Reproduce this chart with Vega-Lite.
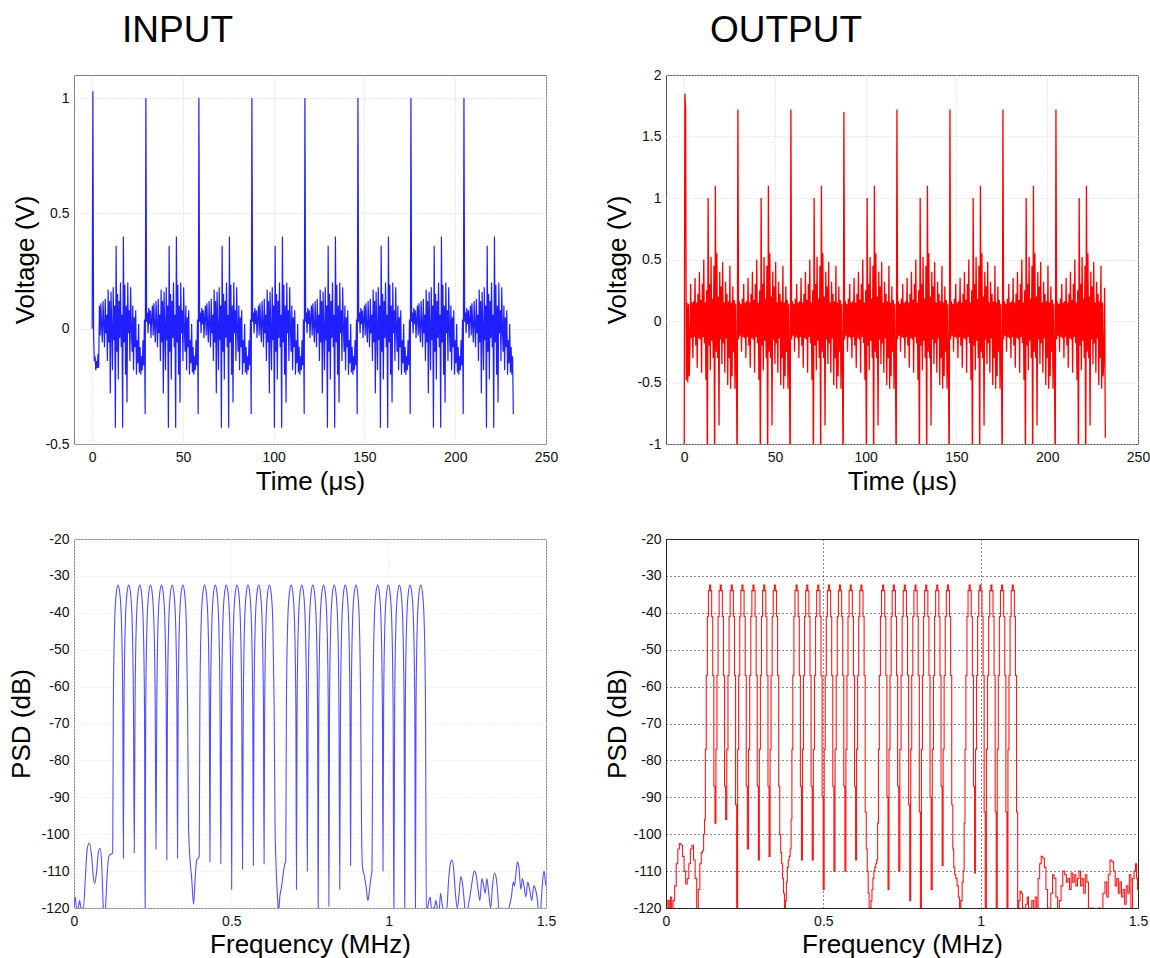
{
"$schema":"https://vega.github.io/schema/vega-lite/v6.json",
"padding":{"left":7,"top":11,"right":5,"bottom":2},
"background":"white",
"config":{
"font":"Liberation Sans",
"axis":{"domain":false,"ticks":false,"tickSize":0,"labelFontSize":14,"labelColor":"#111","titleFontSize":26,"titleFontWeight":"normal","titleColor":"#000","labelFlush":false,"labelOverlap":false},
"axisX":{"labelPadding":6,"titleBaseline":"alphabetic","titleY":45},
"axisY":{"labelPadding":5,"titleBaseline":"top"},
"title":{"fontSize":37,"fontWeight":"normal","color":"#000","anchor":"start","frame":"group","baseline":"alphabetic","offset":25}
},
"datasets":{
"time":[
{"t":0,"i":0,"o":-1.3},
{"t":0.4,"i":1.03,"o":1.85},{"t":0.8,"i":-0.03,"o":1.72},{"t":1.2,"i":-0.14,"o":-0.48},{"t":1.6,"i":-0.12,"o":0.15},{"t":2,"i":-0.18,"o":-0.5},{"t":2.4,"i":-0.14,"o":0.14},{"t":2.8,"i":-0.17,"o":-0.45},{"t":3.2,"i":-0.11,"o":-0.2},{"t":3.6,"i":-0.17,"o":0.3},{"t":4,"i":0.1,"o":-0.14},{"t":4.4,"i":-0.03,"o":0.15},{"t":4.8,"i":0.11,"o":-0.3},{"t":5.2,"i":0.01,"o":0.16},{"t":5.6,"i":-0.06,"o":-0.13},{"t":6,"i":0.12,"o":0.35},{"t":6.4,"i":0.02,"o":-0.2},{"t":6.8,"i":-0.08,"o":0.15},{"t":7.2,"i":0.13,"o":-0.38},{"t":7.6,"i":-0.02,"o":0.22},{"t":8,"i":0.06,"o":-0.14},{"t":8.4,"i":-0.14,"o":0.4},{"t":8.8,"i":0.17,"o":-0.15},{"t":9.2,"i":-0.06,"o":0.17},{"t":9.6,"i":0.12,"o":-0.42},{"t":10,"i":-0.28,"o":0.3},{"t":10.4,"i":0.16,"o":-0.13},{"t":10.8,"i":0,"o":0.5},{"t":11.2,"i":-0.18,"o":-0.18},{"t":11.6,"i":0.18,"o":0.15},{"t":12,"i":-0.05,"o":-0.48},{"t":12.4,"i":0.1,"o":0.25},{"t":12.8,"i":-0.43,"o":-1.3},{"t":13.2,"i":0.36,"o":1},{"t":13.6,"i":-0.1,"o":-0.2},{"t":14,"i":0.15,"o":0.3},{"t":14.4,"i":-0.22,"o":-0.4},{"t":14.8,"i":0.12,"o":0.52},{"t":15.2,"i":-0.04,"o":-0.16},{"t":15.6,"i":0.2,"o":0.18},{"t":16,"i":-0.08,"o":-0.3},{"t":16.4,"i":0.06,"o":0.45},{"t":16.8,"i":-0.43,"o":-1.3},{"t":17.2,"i":0.4,"o":1.1},{"t":17.6,"i":-0.06,"o":-0.25},{"t":18,"i":0.19,"o":0.55},{"t":18.4,"i":-0.2,"o":-0.3},{"t":18.8,"i":0.1,"o":0.2},{"t":19.2,"i":-0.32,"o":-0.85},{"t":19.6,"i":0.2,"o":0.4},{"t":20,"i":-0.02,"o":-0.15},{"t":20.4,"i":0.08,"o":0.28},{"t":20.8,"i":-0.14,"o":-0.35},{"t":21.2,"i":0.18,"o":0.48},{"t":21.6,"i":0,"o":-0.18},{"t":22,"i":-0.1,"o":0.15},{"t":22.4,"i":0.1,"o":-0.42},{"t":22.8,"i":-0.18,"o":0.32},{"t":23.2,"i":0.05,"o":-0.14},{"t":23.6,"i":-0.08,"o":0.22},{"t":24,"i":0.08,"o":-0.52},{"t":24.4,"i":-0.2,"o":0.16},{"t":24.8,"i":-0.05,"o":-0.3},{"t":25.2,"i":-0.15,"o":0.45},{"t":25.6,"i":0.02,"o":-0.55},{"t":26,"i":-0.19,"o":0.15},{"t":26.4,"i":-0.08,"o":-0.45},{"t":26.8,"i":-0.2,"o":0.28},{"t":27.2,"i":-0.12,"o":-0.25},{"t":27.6,"i":-0.18,"o":0.17},{"t":28,"i":-0.05,"o":-0.55},{"t":28.4,"i":-0.16,"o":0.14},{"t":28.8,"i":0.04,"o":-0.4},{"t":29.2,"i":-0.37,"o":-1.3},
{"t":29.6,"i":1,"o":1.72},{"t":30,"i":0.03,"o":-0.15},{"t":30.4,"i":0.07,"o":0.16},{"t":30.8,"i":-0.02,"o":-0.12},{"t":31.2,"i":0.09,"o":0.14},{"t":31.6,"i":0.02,"o":-0.25},{"t":32,"i":0.08,"o":0.18},{"t":32.4,"i":-0.04,"o":-0.13},{"t":32.8,"i":0.05,"o":0.3},{"t":33.2,"i":0.1,"o":-0.14},{"t":33.6,"i":-0.03,"o":0.15},{"t":34,"i":0.11,"o":-0.3},{"t":34.4,"i":0.01,"o":0.16},{"t":34.8,"i":-0.06,"o":-0.13},{"t":35.2,"i":0.12,"o":0.35},{"t":35.6,"i":0.02,"o":-0.2},{"t":36,"i":-0.08,"o":0.15},{"t":36.4,"i":0.13,"o":-0.38},{"t":36.8,"i":-0.02,"o":0.22},{"t":37.2,"i":0.06,"o":-0.14},{"t":37.6,"i":-0.14,"o":0.4},{"t":38,"i":0.17,"o":-0.15},{"t":38.4,"i":-0.06,"o":0.17},{"t":38.8,"i":0.12,"o":-0.42},{"t":39.2,"i":-0.28,"o":0.3},{"t":39.6,"i":0.16,"o":-0.13},{"t":40,"i":0,"o":0.5},{"t":40.4,"i":-0.18,"o":-0.18},{"t":40.8,"i":0.18,"o":0.15},{"t":41.2,"i":-0.05,"o":-0.48},{"t":41.6,"i":0.1,"o":0.25},{"t":42,"i":-0.43,"o":-1.3},{"t":42.4,"i":0.36,"o":1},{"t":42.8,"i":-0.1,"o":-0.2},{"t":43.2,"i":0.15,"o":0.3},{"t":43.6,"i":-0.22,"o":-0.4},{"t":44,"i":0.12,"o":0.52},{"t":44.4,"i":-0.04,"o":-0.16},{"t":44.8,"i":0.2,"o":0.18},{"t":45.2,"i":-0.08,"o":-0.3},{"t":45.6,"i":0.06,"o":0.45},{"t":46,"i":-0.43,"o":-1.3},{"t":46.4,"i":0.4,"o":1.1},{"t":46.8,"i":-0.06,"o":-0.25},{"t":47.2,"i":0.19,"o":0.55},{"t":47.6,"i":-0.2,"o":-0.3},{"t":48,"i":0.1,"o":0.2},{"t":48.4,"i":-0.32,"o":-0.85},{"t":48.8,"i":0.2,"o":0.4},{"t":49.2,"i":-0.02,"o":-0.15},{"t":49.6,"i":0.08,"o":0.28},{"t":50,"i":-0.14,"o":-0.35},{"t":50.4,"i":0.18,"o":0.48},{"t":50.8,"i":0,"o":-0.18},{"t":51.2,"i":-0.1,"o":0.15},{"t":51.6,"i":0.1,"o":-0.42},{"t":52,"i":-0.18,"o":0.32},{"t":52.4,"i":0.05,"o":-0.14},{"t":52.8,"i":-0.08,"o":0.22},{"t":53.2,"i":0.08,"o":-0.52},{"t":53.6,"i":-0.2,"o":0.16},{"t":54,"i":-0.05,"o":-0.3},{"t":54.4,"i":-0.15,"o":0.45},{"t":54.8,"i":0.02,"o":-0.55},{"t":55.2,"i":-0.19,"o":0.15},{"t":55.6,"i":-0.08,"o":-0.45},{"t":56,"i":-0.2,"o":0.28},{"t":56.4,"i":-0.12,"o":-0.25},{"t":56.8,"i":-0.18,"o":0.17},{"t":57.2,"i":-0.05,"o":-0.55},{"t":57.6,"i":-0.16,"o":0.14},{"t":58,"i":0.04,"o":-0.4},{"t":58.4,"i":-0.37,"o":-1.3},
{"t":58.8,"i":1,"o":1.72},{"t":59.2,"i":0.03,"o":-0.15},{"t":59.6,"i":0.07,"o":0.16},{"t":60,"i":-0.02,"o":-0.12},{"t":60.4,"i":0.09,"o":0.14},{"t":60.8,"i":0.02,"o":-0.25},{"t":61.2,"i":0.08,"o":0.18},{"t":61.6,"i":-0.04,"o":-0.13},{"t":62,"i":0.05,"o":0.3},{"t":62.4,"i":0.1,"o":-0.14},{"t":62.8,"i":-0.03,"o":0.15},{"t":63.2,"i":0.11,"o":-0.3},{"t":63.6,"i":0.01,"o":0.16},{"t":64,"i":-0.06,"o":-0.13},{"t":64.4,"i":0.12,"o":0.35},{"t":64.8,"i":0.02,"o":-0.2},{"t":65.2,"i":-0.08,"o":0.15},{"t":65.6,"i":0.13,"o":-0.38},{"t":66,"i":-0.02,"o":0.22},{"t":66.4,"i":0.06,"o":-0.14},{"t":66.8,"i":-0.14,"o":0.4},{"t":67.2,"i":0.17,"o":-0.15},{"t":67.6,"i":-0.06,"o":0.17},{"t":68,"i":0.12,"o":-0.42},{"t":68.4,"i":-0.28,"o":0.3},{"t":68.8,"i":0.16,"o":-0.13},{"t":69.2,"i":0,"o":0.5},{"t":69.6,"i":-0.18,"o":-0.18},{"t":70,"i":0.18,"o":0.15},{"t":70.4,"i":-0.05,"o":-0.48},{"t":70.8,"i":0.1,"o":0.25},{"t":71.2,"i":-0.43,"o":-1.3},{"t":71.6,"i":0.36,"o":1},{"t":72,"i":-0.1,"o":-0.2},{"t":72.4,"i":0.15,"o":0.3},{"t":72.8,"i":-0.22,"o":-0.4},{"t":73.2,"i":0.12,"o":0.52},{"t":73.6,"i":-0.04,"o":-0.16},{"t":74,"i":0.2,"o":0.18},{"t":74.4,"i":-0.08,"o":-0.3},{"t":74.8,"i":0.06,"o":0.45},{"t":75.2,"i":-0.43,"o":-1.3},{"t":75.6,"i":0.4,"o":1.1},{"t":76,"i":-0.06,"o":-0.25},{"t":76.4,"i":0.19,"o":0.55},{"t":76.8,"i":-0.2,"o":-0.3},{"t":77.2,"i":0.1,"o":0.2},{"t":77.6,"i":-0.32,"o":-0.85},{"t":78,"i":0.2,"o":0.4},{"t":78.4,"i":-0.02,"o":-0.15},{"t":78.8,"i":0.08,"o":0.28},{"t":79.2,"i":-0.14,"o":-0.35},{"t":79.6,"i":0.18,"o":0.48},{"t":80,"i":0,"o":-0.18},{"t":80.4,"i":-0.1,"o":0.15},{"t":80.8,"i":0.1,"o":-0.42},{"t":81.2,"i":-0.18,"o":0.32},{"t":81.6,"i":0.05,"o":-0.14},{"t":82,"i":-0.08,"o":0.22},{"t":82.4,"i":0.08,"o":-0.52},{"t":82.8,"i":-0.2,"o":0.16},{"t":83.2,"i":-0.05,"o":-0.3},{"t":83.6,"i":-0.15,"o":0.45},{"t":84,"i":0.02,"o":-0.55},{"t":84.4,"i":-0.19,"o":0.15},{"t":84.8,"i":-0.08,"o":-0.45},{"t":85.2,"i":-0.2,"o":0.28},{"t":85.6,"i":-0.12,"o":-0.25},{"t":86,"i":-0.18,"o":0.17},{"t":86.4,"i":-0.05,"o":-0.55},{"t":86.8,"i":-0.16,"o":0.14},{"t":87.2,"i":0.04,"o":-0.4},{"t":87.6,"i":-0.37,"o":-1.3},
{"t":88,"i":1,"o":1.7},{"t":88.4,"i":0.03,"o":-0.15},{"t":88.8,"i":0.07,"o":0.16},{"t":89.2,"i":-0.02,"o":-0.12},{"t":89.6,"i":0.09,"o":0.14},{"t":90,"i":0.02,"o":-0.25},{"t":90.4,"i":0.08,"o":0.18},{"t":90.8,"i":-0.04,"o":-0.13},{"t":91.2,"i":0.05,"o":0.3},{"t":91.6,"i":0.1,"o":-0.14},{"t":92,"i":-0.03,"o":0.15},{"t":92.4,"i":0.11,"o":-0.3},{"t":92.8,"i":0.01,"o":0.16},{"t":93.2,"i":-0.06,"o":-0.13},{"t":93.6,"i":0.12,"o":0.35},{"t":94,"i":0.02,"o":-0.2},{"t":94.4,"i":-0.08,"o":0.15},{"t":94.8,"i":0.13,"o":-0.38},{"t":95.2,"i":-0.02,"o":0.22},{"t":95.6,"i":0.06,"o":-0.14},{"t":96,"i":-0.14,"o":0.4},{"t":96.4,"i":0.17,"o":-0.15},{"t":96.8,"i":-0.06,"o":0.17},{"t":97.2,"i":0.12,"o":-0.42},{"t":97.6,"i":-0.28,"o":0.3},{"t":98,"i":0.16,"o":-0.13},{"t":98.4,"i":0,"o":0.5},{"t":98.8,"i":-0.18,"o":-0.18},{"t":99.2,"i":0.18,"o":0.15},{"t":99.6,"i":-0.05,"o":-0.48},{"t":100,"i":0.1,"o":0.25},{"t":100.4,"i":-0.43,"o":-1.3},{"t":100.8,"i":0.36,"o":1},{"t":101.2,"i":-0.1,"o":-0.2},{"t":101.6,"i":0.15,"o":0.3},{"t":102,"i":-0.22,"o":-0.4},{"t":102.4,"i":0.12,"o":0.52},{"t":102.8,"i":-0.04,"o":-0.16},{"t":103.2,"i":0.2,"o":0.18},{"t":103.6,"i":-0.08,"o":-0.3},{"t":104,"i":0.06,"o":0.45},{"t":104.4,"i":-0.43,"o":-1.3},{"t":104.8,"i":0.4,"o":1.1},{"t":105.2,"i":-0.06,"o":-0.25},{"t":105.6,"i":0.19,"o":0.55},{"t":106,"i":-0.2,"o":-0.3},{"t":106.4,"i":0.1,"o":0.2},{"t":106.8,"i":-0.32,"o":-0.85},{"t":107.2,"i":0.2,"o":0.4},{"t":107.6,"i":-0.02,"o":-0.15},{"t":108,"i":0.08,"o":0.28},{"t":108.4,"i":-0.14,"o":-0.35},{"t":108.8,"i":0.18,"o":0.48},{"t":109.2,"i":0,"o":-0.18},{"t":109.6,"i":-0.1,"o":0.15},{"t":110,"i":0.1,"o":-0.42},{"t":110.4,"i":-0.18,"o":0.32},{"t":110.8,"i":0.05,"o":-0.14},{"t":111.2,"i":-0.08,"o":0.22},{"t":111.6,"i":0.08,"o":-0.52},{"t":112,"i":-0.2,"o":0.16},{"t":112.4,"i":-0.05,"o":-0.3},{"t":112.8,"i":-0.15,"o":0.45},{"t":113.2,"i":0.02,"o":-0.55},{"t":113.6,"i":-0.19,"o":0.15},{"t":114,"i":-0.08,"o":-0.45},{"t":114.4,"i":-0.2,"o":0.28},{"t":114.8,"i":-0.12,"o":-0.25},{"t":115.2,"i":-0.18,"o":0.17},{"t":115.6,"i":-0.05,"o":-0.55},{"t":116,"i":-0.16,"o":0.14},{"t":116.4,"i":0.04,"o":-0.4},{"t":116.8,"i":-0.37,"o":-1.3},
{"t":117.2,"i":1,"o":1.72},{"t":117.6,"i":0.03,"o":-0.15},{"t":118,"i":0.07,"o":0.16},{"t":118.4,"i":-0.02,"o":-0.12},{"t":118.8,"i":0.09,"o":0.14},{"t":119.2,"i":0.02,"o":-0.25},{"t":119.6,"i":0.08,"o":0.18},{"t":120,"i":-0.04,"o":-0.13},{"t":120.4,"i":0.05,"o":0.3},{"t":120.8,"i":0.1,"o":-0.14},{"t":121.2,"i":-0.03,"o":0.15},{"t":121.6,"i":0.11,"o":-0.3},{"t":122,"i":0.01,"o":0.16},{"t":122.4,"i":-0.06,"o":-0.13},{"t":122.8,"i":0.12,"o":0.35},{"t":123.2,"i":0.02,"o":-0.2},{"t":123.6,"i":-0.08,"o":0.15},{"t":124,"i":0.13,"o":-0.38},{"t":124.4,"i":-0.02,"o":0.22},{"t":124.8,"i":0.06,"o":-0.14},{"t":125.2,"i":-0.14,"o":0.4},{"t":125.6,"i":0.17,"o":-0.15},{"t":126,"i":-0.06,"o":0.17},{"t":126.4,"i":0.12,"o":-0.42},{"t":126.8,"i":-0.28,"o":0.3},{"t":127.2,"i":0.16,"o":-0.13},{"t":127.6,"i":0,"o":0.5},{"t":128,"i":-0.18,"o":-0.18},{"t":128.4,"i":0.18,"o":0.15},{"t":128.8,"i":-0.05,"o":-0.48},{"t":129.2,"i":0.1,"o":0.25},{"t":129.6,"i":-0.43,"o":-1.3},{"t":130,"i":0.36,"o":1},{"t":130.4,"i":-0.1,"o":-0.2},{"t":130.8,"i":0.15,"o":0.3},{"t":131.2,"i":-0.22,"o":-0.4},{"t":131.6,"i":0.12,"o":0.52},{"t":132,"i":-0.04,"o":-0.16},{"t":132.4,"i":0.2,"o":0.18},{"t":132.8,"i":-0.08,"o":-0.3},{"t":133.2,"i":0.06,"o":0.45},{"t":133.6,"i":-0.43,"o":-1.3},{"t":134,"i":0.4,"o":1.1},{"t":134.4,"i":-0.06,"o":-0.25},{"t":134.8,"i":0.19,"o":0.55},{"t":135.2,"i":-0.2,"o":-0.3},{"t":135.6,"i":0.1,"o":0.2},{"t":136,"i":-0.32,"o":-0.85},{"t":136.4,"i":0.2,"o":0.4},{"t":136.8,"i":-0.02,"o":-0.15},{"t":137.2,"i":0.08,"o":0.28},{"t":137.6,"i":-0.14,"o":-0.35},{"t":138,"i":0.18,"o":0.48},{"t":138.4,"i":0,"o":-0.18},{"t":138.8,"i":-0.1,"o":0.15},{"t":139.2,"i":0.1,"o":-0.42},{"t":139.6,"i":-0.18,"o":0.32},{"t":140,"i":0.05,"o":-0.14},{"t":140.4,"i":-0.08,"o":0.22},{"t":140.8,"i":0.08,"o":-0.52},{"t":141.2,"i":-0.2,"o":0.16},{"t":141.6,"i":-0.05,"o":-0.3},{"t":142,"i":-0.15,"o":0.45},{"t":142.4,"i":0.02,"o":-0.55},{"t":142.8,"i":-0.19,"o":0.15},{"t":143.2,"i":-0.08,"o":-0.45},{"t":143.6,"i":-0.2,"o":0.28},{"t":144,"i":-0.12,"o":-0.25},{"t":144.4,"i":-0.18,"o":0.17},{"t":144.8,"i":-0.05,"o":-0.55},{"t":145.2,"i":-0.16,"o":0.14},{"t":145.6,"i":0.04,"o":-0.4},{"t":146,"i":-0.37,"o":-1.3},
{"t":146.4,"i":1,"o":1.72},{"t":146.8,"i":0.03,"o":-0.15},{"t":147.2,"i":0.07,"o":0.16},{"t":147.6,"i":-0.02,"o":-0.12},{"t":148,"i":0.09,"o":0.14},{"t":148.4,"i":0.02,"o":-0.25},{"t":148.8,"i":0.08,"o":0.18},{"t":149.2,"i":-0.04,"o":-0.13},{"t":149.6,"i":0.05,"o":0.3},{"t":150,"i":0.1,"o":-0.14},{"t":150.4,"i":-0.03,"o":0.15},{"t":150.8,"i":0.11,"o":-0.3},{"t":151.2,"i":0.01,"o":0.16},{"t":151.6,"i":-0.06,"o":-0.13},{"t":152,"i":0.12,"o":0.35},{"t":152.4,"i":0.02,"o":-0.2},{"t":152.8,"i":-0.08,"o":0.15},{"t":153.2,"i":0.13,"o":-0.38},{"t":153.6,"i":-0.02,"o":0.22},{"t":154,"i":0.06,"o":-0.14},{"t":154.4,"i":-0.14,"o":0.4},{"t":154.8,"i":0.17,"o":-0.15},{"t":155.2,"i":-0.06,"o":0.17},{"t":155.6,"i":0.12,"o":-0.42},{"t":156,"i":-0.28,"o":0.3},{"t":156.4,"i":0.16,"o":-0.13},{"t":156.8,"i":0,"o":0.5},{"t":157.2,"i":-0.18,"o":-0.18},{"t":157.6,"i":0.18,"o":0.15},{"t":158,"i":-0.05,"o":-0.48},{"t":158.4,"i":0.1,"o":0.25},{"t":158.8,"i":-0.43,"o":-1.3},{"t":159.2,"i":0.36,"o":1},{"t":159.6,"i":-0.1,"o":-0.2},{"t":160,"i":0.15,"o":0.3},{"t":160.4,"i":-0.22,"o":-0.4},{"t":160.8,"i":0.12,"o":0.52},{"t":161.2,"i":-0.04,"o":-0.16},{"t":161.6,"i":0.2,"o":0.18},{"t":162,"i":-0.08,"o":-0.3},{"t":162.4,"i":0.06,"o":0.45},{"t":162.8,"i":-0.43,"o":-1.3},{"t":163.2,"i":0.4,"o":1.1},{"t":163.6,"i":-0.06,"o":-0.25},{"t":164,"i":0.19,"o":0.55},{"t":164.4,"i":-0.2,"o":-0.3},{"t":164.8,"i":0.1,"o":0.2},{"t":165.2,"i":-0.32,"o":-0.85},{"t":165.6,"i":0.2,"o":0.4},{"t":166,"i":-0.02,"o":-0.15},{"t":166.4,"i":0.08,"o":0.28},{"t":166.8,"i":-0.14,"o":-0.35},{"t":167.2,"i":0.18,"o":0.48},{"t":167.6,"i":0,"o":-0.18},{"t":168,"i":-0.1,"o":0.15},{"t":168.4,"i":0.1,"o":-0.42},{"t":168.8,"i":-0.18,"o":0.32},{"t":169.2,"i":0.05,"o":-0.14},{"t":169.6,"i":-0.08,"o":0.22},{"t":170,"i":0.08,"o":-0.52},{"t":170.4,"i":-0.2,"o":0.16},{"t":170.8,"i":-0.05,"o":-0.3},{"t":171.2,"i":-0.15,"o":0.45},{"t":171.6,"i":0.02,"o":-0.55},{"t":172,"i":-0.19,"o":0.15},{"t":172.4,"i":-0.08,"o":-0.45},{"t":172.8,"i":-0.2,"o":0.28},{"t":173.2,"i":-0.12,"o":-0.25},{"t":173.6,"i":-0.18,"o":0.17},{"t":174,"i":-0.05,"o":-0.55},{"t":174.4,"i":-0.16,"o":0.14},{"t":174.8,"i":0.04,"o":-0.4},{"t":175.2,"i":-0.37,"o":-1.3},
{"t":175.6,"i":1,"o":1.72},{"t":176,"i":0.03,"o":-0.15},{"t":176.4,"i":0.07,"o":0.16},{"t":176.8,"i":-0.02,"o":-0.12},{"t":177.2,"i":0.09,"o":0.14},{"t":177.6,"i":0.02,"o":-0.25},{"t":178,"i":0.08,"o":0.18},{"t":178.4,"i":-0.04,"o":-0.13},{"t":178.8,"i":0.05,"o":0.3},{"t":179.2,"i":0.1,"o":-0.14},{"t":179.6,"i":-0.03,"o":0.15},{"t":180,"i":0.11,"o":-0.3},{"t":180.4,"i":0.01,"o":0.16},{"t":180.8,"i":-0.06,"o":-0.13},{"t":181.2,"i":0.12,"o":0.35},{"t":181.6,"i":0.02,"o":-0.2},{"t":182,"i":-0.08,"o":0.15},{"t":182.4,"i":0.13,"o":-0.38},{"t":182.8,"i":-0.02,"o":0.22},{"t":183.2,"i":0.06,"o":-0.14},{"t":183.6,"i":-0.14,"o":0.4},{"t":184,"i":0.17,"o":-0.15},{"t":184.4,"i":-0.06,"o":0.17},{"t":184.8,"i":0.12,"o":-0.42},{"t":185.2,"i":-0.28,"o":0.3},{"t":185.6,"i":0.16,"o":-0.13},{"t":186,"i":0,"o":0.5},{"t":186.4,"i":-0.18,"o":-0.18},{"t":186.8,"i":0.18,"o":0.15},{"t":187.2,"i":-0.05,"o":-0.48},{"t":187.6,"i":0.1,"o":0.25},{"t":188,"i":-0.43,"o":-1.3},{"t":188.4,"i":0.36,"o":1},{"t":188.8,"i":-0.1,"o":-0.2},{"t":189.2,"i":0.15,"o":0.3},{"t":189.6,"i":-0.22,"o":-0.4},{"t":190,"i":0.12,"o":0.52},{"t":190.4,"i":-0.04,"o":-0.16},{"t":190.8,"i":0.2,"o":0.18},{"t":191.2,"i":-0.08,"o":-0.3},{"t":191.6,"i":0.06,"o":0.45},{"t":192,"i":-0.43,"o":-1.3},{"t":192.4,"i":0.4,"o":1.1},{"t":192.8,"i":-0.06,"o":-0.25},{"t":193.2,"i":0.19,"o":0.55},{"t":193.6,"i":-0.2,"o":-0.3},{"t":194,"i":0.1,"o":0.2},{"t":194.4,"i":-0.32,"o":-0.85},{"t":194.8,"i":0.2,"o":0.4},{"t":195.2,"i":-0.02,"o":-0.15},{"t":195.6,"i":0.08,"o":0.28},{"t":196,"i":-0.14,"o":-0.35},{"t":196.4,"i":0.18,"o":0.48},{"t":196.8,"i":0,"o":-0.18},{"t":197.2,"i":-0.1,"o":0.15},{"t":197.6,"i":0.1,"o":-0.42},{"t":198,"i":-0.18,"o":0.32},{"t":198.4,"i":0.05,"o":-0.14},{"t":198.8,"i":-0.08,"o":0.22},{"t":199.2,"i":0.08,"o":-0.52},{"t":199.6,"i":-0.2,"o":0.16},{"t":200,"i":-0.05,"o":-0.3},{"t":200.4,"i":-0.15,"o":0.45},{"t":200.8,"i":0.02,"o":-0.55},{"t":201.2,"i":-0.19,"o":0.15},{"t":201.6,"i":-0.08,"o":-0.45},{"t":202,"i":-0.2,"o":0.28},{"t":202.4,"i":-0.12,"o":-0.25},{"t":202.8,"i":-0.18,"o":0.17},{"t":203.2,"i":-0.05,"o":-0.55},{"t":203.6,"i":-0.16,"o":0.14},{"t":204,"i":0.04,"o":-0.4},{"t":204.4,"i":-0.37,"o":-1.3},
{"t":204.8,"i":1,"o":1.72},{"t":205.2,"i":0.03,"o":-0.15},{"t":205.6,"i":0.07,"o":0.16},{"t":206,"i":-0.02,"o":-0.12},{"t":206.4,"i":0.09,"o":0.14},{"t":206.8,"i":0.02,"o":-0.25},{"t":207.2,"i":0.08,"o":0.18},{"t":207.6,"i":-0.04,"o":-0.13},{"t":208,"i":0.05,"o":0.3},{"t":208.4,"i":0.1,"o":-0.14},{"t":208.8,"i":-0.03,"o":0.15},{"t":209.2,"i":0.11,"o":-0.3},{"t":209.6,"i":0.01,"o":0.16},{"t":210,"i":-0.06,"o":-0.13},{"t":210.4,"i":0.12,"o":0.35},{"t":210.8,"i":0.02,"o":-0.2},{"t":211.2,"i":-0.08,"o":0.15},{"t":211.6,"i":0.13,"o":-0.38},{"t":212,"i":-0.02,"o":0.22},{"t":212.4,"i":0.06,"o":-0.14},{"t":212.8,"i":-0.14,"o":0.4},{"t":213.2,"i":0.17,"o":-0.15},{"t":213.6,"i":-0.06,"o":0.17},{"t":214,"i":0.12,"o":-0.42},{"t":214.4,"i":-0.28,"o":0.3},{"t":214.8,"i":0.16,"o":-0.13},{"t":215.2,"i":0,"o":0.5},{"t":215.6,"i":-0.18,"o":-0.18},{"t":216,"i":0.18,"o":0.15},{"t":216.4,"i":-0.05,"o":-0.48},{"t":216.8,"i":0.1,"o":0.25},{"t":217.2,"i":-0.43,"o":-1.3},{"t":217.6,"i":0.36,"o":1},{"t":218,"i":-0.1,"o":-0.2},{"t":218.4,"i":0.15,"o":0.3},{"t":218.8,"i":-0.22,"o":-0.4},{"t":219.2,"i":0.12,"o":0.52},{"t":219.6,"i":-0.04,"o":-0.16},{"t":220,"i":0.2,"o":0.18},{"t":220.4,"i":-0.08,"o":-0.3},{"t":220.8,"i":0.06,"o":0.45},{"t":221.2,"i":-0.43,"o":-1.3},{"t":221.6,"i":0.4,"o":1.1},{"t":222,"i":-0.06,"o":-0.25},{"t":222.4,"i":0.19,"o":0.55},{"t":222.8,"i":-0.2,"o":-0.3},{"t":223.2,"i":0.1,"o":0.2},{"t":223.6,"i":-0.32,"o":-0.85},{"t":224,"i":0.2,"o":0.4},{"t":224.4,"i":-0.02,"o":-0.15},{"t":224.8,"i":0.08,"o":0.28},{"t":225.2,"i":-0.14,"o":-0.35},{"t":225.6,"i":0.18,"o":0.48},{"t":226,"i":0,"o":-0.18},{"t":226.4,"i":-0.1,"o":0.15},{"t":226.8,"i":0.1,"o":-0.42},{"t":227.2,"i":-0.18,"o":0.32},{"t":227.6,"i":0.05,"o":-0.14},{"t":228,"i":-0.08,"o":0.22},{"t":228.4,"i":0.08,"o":-0.52},{"t":228.8,"i":-0.2,"o":0.16},{"t":229.2,"i":-0.05,"o":-0.3},{"t":229.6,"i":-0.15,"o":0.45},{"t":230,"i":0.02,"o":-0.55},{"t":230.4,"i":-0.19,"o":0.15},{"t":230.8,"i":-0.08,"o":-0.45},{"t":231.2,"i":-0.2,"o":-0.3},{"t":231.6,"i":-0.12,"o":0.27},{"t":232,"i":-0.37,"o":-0.95}
],
"fi":[
{"f":0,"p":-120},{"f":0.004,"p":-117},{"f":0.008,"p":-120},{"f":0.013,"p":-120},{"f":0.018,"p":-118},{"f":0.022,"p":-120},{"f":0.03,"p":-120},{"f":0.036,"p":-112},{"f":0.042,"p":-104},{"f":0.049,"p":-102.4},{"f":0.056,"p":-106},{"f":0.062,"p":-112},{"f":0.066,"p":-113.3},{"f":0.072,"p":-110},{"f":0.078,"p":-104.5},{"f":0.083,"p":-103.8},{"f":0.088,"p":-108},{"f":0.093,"p":-120},{"f":0.096,"p":-124},{"f":0.1,"p":-120},{"f":0.106,"p":-110},{"f":0.111,"p":-106},{"f":0.115,"p":-105.5},{"f":0.12,"p":-105.3},{"f":0.123,"p":-105},
{"f":0.125,"p":-65},{"f":0.129,"p":-43},{"f":0.134,"p":-35},{"f":0.14,"p":-32.5},{"f":0.146,"p":-35},{"f":0.151,"p":-43},{"f":0.155,"p":-65},{"f":0.157,"p":-106.5},
{"f":0.159,"p":-65},{"f":0.163,"p":-43},{"f":0.168,"p":-35},{"f":0.174,"p":-32.5},{"f":0.18,"p":-35},{"f":0.185,"p":-43},{"f":0.189,"p":-65},{"f":0.1915,"p":-105},
{"f":0.194,"p":-65},{"f":0.198,"p":-43},{"f":0.203,"p":-35},{"f":0.209,"p":-32.5},{"f":0.215,"p":-35},{"f":0.22,"p":-43},{"f":0.224,"p":-65},{"f":0.226,"p":-125},
{"f":0.228,"p":-65},{"f":0.232,"p":-43},{"f":0.237,"p":-35},{"f":0.243,"p":-32.5},{"f":0.249,"p":-35},{"f":0.254,"p":-43},{"f":0.258,"p":-65},{"f":0.2605,"p":-104},
{"f":0.263,"p":-65},{"f":0.267,"p":-43},{"f":0.272,"p":-35},{"f":0.278,"p":-32.5},{"f":0.284,"p":-35},{"f":0.289,"p":-43},{"f":0.293,"p":-65},{"f":0.295,"p":-107},
{"f":0.297,"p":-65},{"f":0.301,"p":-43},{"f":0.306,"p":-35},{"f":0.312,"p":-32.5},{"f":0.318,"p":-35},{"f":0.323,"p":-43},{"f":0.327,"p":-65},{"f":0.329,"p":-106.5},
{"f":0.331,"p":-65},{"f":0.335,"p":-43},{"f":0.34,"p":-35},{"f":0.346,"p":-32.5},{"f":0.352,"p":-35},{"f":0.357,"p":-43},{"f":0.361,"p":-65},
{"f":0.364,"p":-98},{"f":0.368,"p":-106},{"f":0.374,"p":-112},{"f":0.38,"p":-119},{"f":0.385,"p":-112},{"f":0.39,"p":-107},{"f":0.395,"p":-106.5},{"f":0.398,"p":-106},
{"f":0.4,"p":-65},{"f":0.404,"p":-43},{"f":0.409,"p":-35},{"f":0.415,"p":-32.5},{"f":0.421,"p":-35},{"f":0.426,"p":-43},{"f":0.43,"p":-65},{"f":0.432,"p":-107.5},
{"f":0.434,"p":-65},{"f":0.438,"p":-43},{"f":0.443,"p":-35},{"f":0.449,"p":-32.5},{"f":0.455,"p":-35},{"f":0.46,"p":-43},{"f":0.464,"p":-65},{"f":0.4665,"p":-108},
{"f":0.469,"p":-65},{"f":0.473,"p":-43},{"f":0.478,"p":-35},{"f":0.484,"p":-32.5},{"f":0.49,"p":-35},{"f":0.495,"p":-43},{"f":0.499,"p":-65},{"f":0.501,"p":-115},
{"f":0.503,"p":-65},{"f":0.507,"p":-43},{"f":0.512,"p":-35},{"f":0.518,"p":-32.5},{"f":0.524,"p":-35},{"f":0.529,"p":-43},{"f":0.533,"p":-65},{"f":0.5355,"p":-109.5},
{"f":0.538,"p":-65},{"f":0.542,"p":-43},{"f":0.547,"p":-35},{"f":0.553,"p":-32.5},{"f":0.559,"p":-35},{"f":0.564,"p":-43},{"f":0.568,"p":-65},{"f":0.57,"p":-108.5},
{"f":0.572,"p":-65},{"f":0.576,"p":-43},{"f":0.581,"p":-35},{"f":0.587,"p":-32.5},{"f":0.593,"p":-35},{"f":0.598,"p":-43},{"f":0.602,"p":-65},{"f":0.604,"p":-108},
{"f":0.606,"p":-65},{"f":0.61,"p":-43},{"f":0.615,"p":-35},{"f":0.621,"p":-32.5},{"f":0.627,"p":-35},{"f":0.632,"p":-43},{"f":0.636,"p":-65},
{"f":0.639,"p":-98},{"f":0.642,"p":-108},{"f":0.646,"p":-116},{"f":0.65,"p":-121},{"f":0.654,"p":-117},{"f":0.66,"p":-114},{"f":0.666,"p":-110},{"f":0.67,"p":-108},{"f":0.673,"p":-107.5},
{"f":0.675,"p":-65},{"f":0.679,"p":-43},{"f":0.684,"p":-35},{"f":0.69,"p":-32.5},{"f":0.696,"p":-35},{"f":0.701,"p":-43},{"f":0.705,"p":-65},{"f":0.707,"p":-115},
{"f":0.709,"p":-65},{"f":0.713,"p":-43},{"f":0.718,"p":-35},{"f":0.724,"p":-32.5},{"f":0.73,"p":-35},{"f":0.735,"p":-43},{"f":0.739,"p":-65},{"f":0.7415,"p":-110},
{"f":0.744,"p":-65},{"f":0.748,"p":-43},{"f":0.753,"p":-35},{"f":0.759,"p":-32.5},{"f":0.765,"p":-35},{"f":0.77,"p":-43},{"f":0.774,"p":-65},{"f":0.776,"p":-125},
{"f":0.778,"p":-65},{"f":0.782,"p":-43},{"f":0.787,"p":-35},{"f":0.793,"p":-32.5},{"f":0.799,"p":-35},{"f":0.804,"p":-43},{"f":0.808,"p":-65},{"f":0.81,"p":-119.5},
{"f":0.812,"p":-65},{"f":0.816,"p":-43},{"f":0.821,"p":-35},{"f":0.827,"p":-32.5},{"f":0.833,"p":-35},{"f":0.838,"p":-43},{"f":0.842,"p":-65},{"f":0.8445,"p":-115},
{"f":0.847,"p":-65},{"f":0.851,"p":-43},{"f":0.856,"p":-35},{"f":0.862,"p":-32.5},{"f":0.868,"p":-35},{"f":0.873,"p":-43},{"f":0.877,"p":-65},{"f":0.879,"p":-108.5},
{"f":0.881,"p":-65},{"f":0.885,"p":-43},{"f":0.89,"p":-35},{"f":0.896,"p":-32.5},{"f":0.902,"p":-35},{"f":0.907,"p":-43},{"f":0.911,"p":-65},
{"f":0.914,"p":-100},{"f":0.917,"p":-109},{"f":0.922,"p":-111},{"f":0.928,"p":-114},{"f":0.934,"p":-118},{"f":0.938,"p":-116},{"f":0.943,"p":-112},{"f":0.947,"p":-110},
{"f":0.95,"p":-65},{"f":0.954,"p":-43},{"f":0.959,"p":-35},{"f":0.965,"p":-32.5},{"f":0.971,"p":-35},{"f":0.976,"p":-43},{"f":0.98,"p":-65},{"f":0.982,"p":-110},
{"f":0.984,"p":-65},{"f":0.988,"p":-43},{"f":0.993,"p":-35},{"f":0.999,"p":-32.5},{"f":1.005,"p":-35},{"f":1.01,"p":-43},{"f":1.014,"p":-65},{"f":1.0165,"p":-125},
{"f":1.019,"p":-65},{"f":1.023,"p":-43},{"f":1.028,"p":-35},{"f":1.034,"p":-32.5},{"f":1.04,"p":-35},{"f":1.045,"p":-43},{"f":1.049,"p":-65},{"f":1.051,"p":-125},
{"f":1.053,"p":-65},{"f":1.057,"p":-43},{"f":1.062,"p":-35},{"f":1.068,"p":-32.5},{"f":1.074,"p":-35},{"f":1.079,"p":-43},{"f":1.083,"p":-65},{"f":1.085,"p":-125},
{"f":1.087,"p":-65},{"f":1.091,"p":-43},{"f":1.096,"p":-35},{"f":1.102,"p":-32.5},{"f":1.108,"p":-35},{"f":1.113,"p":-43},{"f":1.117,"p":-65},{"f":1.12,"p":-125},
{"f":1.124,"p":-120},{"f":1.128,"p":-118},{"f":1.132,"p":-117},{"f":1.136,"p":-120},{"f":1.145,"p":-120},{"f":1.15,"p":-118},{"f":1.155,"p":-120},{"f":1.16,"p":-121},{"f":1.165,"p":-116},{"f":1.17,"p":-119},{"f":1.176,"p":-121},{"f":1.185,"p":-120},{"f":1.19,"p":-113},{"f":1.196,"p":-108},{"f":1.201,"p":-107},{"f":1.206,"p":-109},{"f":1.212,"p":-116},{"f":1.218,"p":-120},{"f":1.224,"p":-116},{"f":1.229,"p":-111.5},{"f":1.234,"p":-113},{"f":1.24,"p":-118},{"f":1.246,"p":-125},{"f":1.252,"p":-120},{"f":1.258,"p":-117},{"f":1.265,"p":-113},{"f":1.272,"p":-110},{"f":1.278,"p":-111},{"f":1.284,"p":-115},{"f":1.29,"p":-118},{"f":1.296,"p":-112},{"f":1.302,"p":-114},{"f":1.307,"p":-116},{"f":1.312,"p":-112},{"f":1.318,"p":-116},{"f":1.324,"p":-120},{"f":1.33,"p":-114},{"f":1.336,"p":-110.5},{"f":1.342,"p":-112},{"f":1.348,"p":-118},{"f":1.352,"p":-125},{"f":1.357,"p":-120},{"f":1.365,"p":-121},{"f":1.372,"p":-125},{"f":1.38,"p":-121},{"f":1.39,"p":-117},{"f":1.396,"p":-113},{"f":1.4,"p":-114},{"f":1.404,"p":-111},{"f":1.409,"p":-107.5},{"f":1.414,"p":-109},{"f":1.42,"p":-115},{"f":1.425,"p":-112},{"f":1.43,"p":-114},{"f":1.436,"p":-117},{"f":1.442,"p":-113},{"f":1.448,"p":-115},{"f":1.455,"p":-118},{"f":1.461,"p":-114},{"f":1.467,"p":-115},{"f":1.473,"p":-118},{"f":1.479,"p":-125},{"f":1.485,"p":-118},{"f":1.49,"p":-112},{"f":1.494,"p":-110},{"f":1.498,"p":-113},{"f":1.5,"p":-114}
],
"fo":[
{"f":0,"p":-120},{"f":0.004,"p":-121},{"f":0.008,"p":-118},{"f":0.012,"p":-120},{"f":0.016,"p":-117},{"f":0.02,"p":-121},{"f":0.025,"p":-118},{"f":0.03,"p":-114},{"f":0.035,"p":-108},{"f":0.04,"p":-104},{"f":0.045,"p":-102.5},{"f":0.05,"p":-103},{"f":0.055,"p":-106},{"f":0.06,"p":-110},{"f":0.065,"p":-113.5},{"f":0.07,"p":-112},{"f":0.075,"p":-108},{"f":0.08,"p":-104},{"f":0.085,"p":-103},{"f":0.09,"p":-107},{"f":0.095,"p":-112},{"f":0.1,"p":-122},{"f":0.105,"p":-115},{"f":0.11,"p":-108},{"f":0.114,"p":-105},{"f":0.118,"p":-104.5},{"f":0.121,"p":-100},{"f":0.124,"p":-96},
{"f":0.1262,"p":-77},{"f":0.1297,"p":-57},{"f":0.1331,"p":-41},{"f":0.1366,"p":-34},{"f":0.14,"p":-32.5},{"f":0.1434,"p":-34},{"f":0.1469,"p":-41},{"f":0.1503,"p":-57},{"f":0.1538,"p":-87},{"f":0.1572,"p":-97},
{"f":0.1602,"p":-77},{"f":0.1637,"p":-57},{"f":0.1671,"p":-41},{"f":0.1706,"p":-34},{"f":0.174,"p":-32.5},{"f":0.1774,"p":-34},{"f":0.1809,"p":-41},{"f":0.1843,"p":-57},{"f":0.1878,"p":-87},{"f":0.1912,"p":-96},
{"f":0.1952,"p":-77},{"f":0.1987,"p":-57},{"f":0.2021,"p":-41},{"f":0.2056,"p":-34},{"f":0.209,"p":-32.5},{"f":0.2124,"p":-34},{"f":0.2159,"p":-41},{"f":0.2193,"p":-57},{"f":0.2228,"p":-92},{"f":0.2262,"p":-125},
{"f":0.2292,"p":-77},{"f":0.2327,"p":-57},{"f":0.2361,"p":-41},{"f":0.2396,"p":-34},{"f":0.243,"p":-32.5},{"f":0.2464,"p":-34},{"f":0.2499,"p":-41},{"f":0.2533,"p":-57},{"f":0.2568,"p":-87},{"f":0.2602,"p":-104},
{"f":0.2642,"p":-77},{"f":0.2677,"p":-57},{"f":0.2711,"p":-41},{"f":0.2746,"p":-34},{"f":0.278,"p":-32.5},{"f":0.2814,"p":-34},{"f":0.2849,"p":-41},{"f":0.2883,"p":-57},{"f":0.2918,"p":-87},{"f":0.2952,"p":-107},
{"f":0.2982,"p":-77},{"f":0.3017,"p":-57},{"f":0.3051,"p":-41},{"f":0.3086,"p":-34},{"f":0.312,"p":-32.5},{"f":0.3154,"p":-34},{"f":0.3189,"p":-41},{"f":0.3223,"p":-57},{"f":0.3258,"p":-87},{"f":0.3292,"p":-106},
{"f":0.3322,"p":-77},{"f":0.3357,"p":-57},{"f":0.3391,"p":-41},{"f":0.3426,"p":-34},{"f":0.346,"p":-32.5},{"f":0.3494,"p":-34},{"f":0.3529,"p":-41},{"f":0.3563,"p":-57},{"f":0.3598,"p":-87},
{"f":0.363,"p":-100},{"f":0.366,"p":-105},{"f":0.369,"p":-108},{"f":0.372,"p":-112},{"f":0.375,"p":-116},{"f":0.378,"p":-120},{"f":0.381,"p":-118},{"f":0.384,"p":-113},{"f":0.387,"p":-109},{"f":0.39,"p":-107},{"f":0.393,"p":-106},{"f":0.396,"p":-104},{"f":0.399,"p":-96},
{"f":0.4012,"p":-77},{"f":0.4047,"p":-57},{"f":0.4081,"p":-41},{"f":0.4116,"p":-34},{"f":0.415,"p":-32.5},{"f":0.4184,"p":-34},{"f":0.4219,"p":-41},{"f":0.4253,"p":-57},{"f":0.4288,"p":-87},{"f":0.4322,"p":-107},
{"f":0.4352,"p":-77},{"f":0.4387,"p":-57},{"f":0.4421,"p":-41},{"f":0.4456,"p":-34},{"f":0.449,"p":-32.5},{"f":0.4524,"p":-34},{"f":0.4559,"p":-41},{"f":0.4593,"p":-57},{"f":0.4628,"p":-87},{"f":0.4662,"p":-107},
{"f":0.4702,"p":-77},{"f":0.4737,"p":-57},{"f":0.4771,"p":-41},{"f":0.4806,"p":-34},{"f":0.484,"p":-32.5},{"f":0.4874,"p":-34},{"f":0.4909,"p":-41},{"f":0.4943,"p":-57},{"f":0.4978,"p":-90},{"f":0.5012,"p":-115},
{"f":0.5042,"p":-77},{"f":0.5077,"p":-57},{"f":0.5111,"p":-41},{"f":0.5146,"p":-34},{"f":0.518,"p":-32.5},{"f":0.5214,"p":-34},{"f":0.5249,"p":-41},{"f":0.5283,"p":-57},{"f":0.5318,"p":-87},{"f":0.5352,"p":-110},
{"f":0.5392,"p":-77},{"f":0.5427,"p":-57},{"f":0.5461,"p":-41},{"f":0.5496,"p":-34},{"f":0.553,"p":-32.5},{"f":0.5564,"p":-34},{"f":0.5599,"p":-41},{"f":0.5633,"p":-57},{"f":0.5668,"p":-87},{"f":0.5702,"p":-110},
{"f":0.5732,"p":-77},{"f":0.5767,"p":-57},{"f":0.5801,"p":-41},{"f":0.5836,"p":-34},{"f":0.587,"p":-32.5},{"f":0.5904,"p":-34},{"f":0.5939,"p":-41},{"f":0.5973,"p":-57},{"f":0.6008,"p":-87},{"f":0.6042,"p":-107},
{"f":0.6072,"p":-77},{"f":0.6107,"p":-57},{"f":0.6141,"p":-41},{"f":0.6176,"p":-34},{"f":0.621,"p":-32.5},{"f":0.6244,"p":-34},{"f":0.6279,"p":-41},{"f":0.6313,"p":-57},{"f":0.6348,"p":-94},
{"f":0.638,"p":-104},{"f":0.641,"p":-110},{"f":0.644,"p":-116},{"f":0.647,"p":-120},{"f":0.65,"p":-122},{"f":0.653,"p":-118},{"f":0.656,"p":-115},{"f":0.659,"p":-112},{"f":0.662,"p":-110},{"f":0.665,"p":-109},{"f":0.668,"p":-108},{"f":0.671,"p":-107},{"f":0.674,"p":-97},
{"f":0.6762,"p":-77},{"f":0.6797,"p":-57},{"f":0.6831,"p":-41},{"f":0.6866,"p":-34},{"f":0.69,"p":-32.5},{"f":0.6934,"p":-34},{"f":0.6969,"p":-41},{"f":0.7003,"p":-57},{"f":0.7038,"p":-90},{"f":0.7072,"p":-115},
{"f":0.7102,"p":-77},{"f":0.7137,"p":-57},{"f":0.7171,"p":-41},{"f":0.7206,"p":-34},{"f":0.724,"p":-32.5},{"f":0.7274,"p":-34},{"f":0.7309,"p":-41},{"f":0.7343,"p":-57},{"f":0.7378,"p":-87},{"f":0.7412,"p":-110},
{"f":0.7452,"p":-77},{"f":0.7487,"p":-57},{"f":0.7521,"p":-41},{"f":0.7556,"p":-34},{"f":0.759,"p":-32.5},{"f":0.7624,"p":-34},{"f":0.7659,"p":-41},{"f":0.7693,"p":-57},{"f":0.7728,"p":-92},{"f":0.7762,"p":-118},
{"f":0.7792,"p":-77},{"f":0.7827,"p":-57},{"f":0.7861,"p":-41},{"f":0.7896,"p":-34},{"f":0.793,"p":-32.5},{"f":0.7964,"p":-34},{"f":0.7999,"p":-41},{"f":0.8033,"p":-57},{"f":0.8068,"p":-94},{"f":0.8102,"p":-125},
{"f":0.8132,"p":-77},{"f":0.8167,"p":-57},{"f":0.8201,"p":-41},{"f":0.8236,"p":-34},{"f":0.827,"p":-32.5},{"f":0.8304,"p":-34},{"f":0.8339,"p":-41},{"f":0.8373,"p":-57},{"f":0.8408,"p":-90},{"f":0.8442,"p":-115},
{"f":0.8482,"p":-77},{"f":0.8517,"p":-57},{"f":0.8551,"p":-41},{"f":0.8586,"p":-34},{"f":0.862,"p":-32.5},{"f":0.8654,"p":-34},{"f":0.8689,"p":-41},{"f":0.8723,"p":-57},{"f":0.8758,"p":-87},{"f":0.8792,"p":-108.5},
{"f":0.8822,"p":-77},{"f":0.8857,"p":-57},{"f":0.8891,"p":-41},{"f":0.8926,"p":-34},{"f":0.896,"p":-32.5},{"f":0.8994,"p":-34},{"f":0.9029,"p":-41},{"f":0.9063,"p":-57},{"f":0.9098,"p":-92},
{"f":0.913,"p":-104},{"f":0.916,"p":-109},{"f":0.919,"p":-111},{"f":0.923,"p":-112},{"f":0.927,"p":-114},{"f":0.931,"p":-117},{"f":0.935,"p":-120},{"f":0.939,"p":-118},{"f":0.943,"p":-113},{"f":0.946,"p":-110},{"f":0.949,"p":-97},
{"f":0.9512,"p":-77},{"f":0.9547,"p":-57},{"f":0.9581,"p":-41},{"f":0.9616,"p":-34},{"f":0.965,"p":-32.5},{"f":0.9684,"p":-34},{"f":0.9719,"p":-41},{"f":0.9753,"p":-57},{"f":0.9788,"p":-87},{"f":0.9822,"p":-110.5},
{"f":0.9852,"p":-77},{"f":0.9887,"p":-57},{"f":0.9921,"p":-41},{"f":0.9956,"p":-34},{"f":0.999,"p":-32.5},{"f":1.0024,"p":-34},{"f":1.0059,"p":-41},{"f":1.0093,"p":-57},{"f":1.0128,"p":-94},{"f":1.0162,"p":-125},
{"f":1.0202,"p":-77},{"f":1.0237,"p":-57},{"f":1.0271,"p":-41},{"f":1.0306,"p":-34},{"f":1.034,"p":-32.5},{"f":1.0374,"p":-34},{"f":1.0409,"p":-41},{"f":1.0443,"p":-57},{"f":1.0478,"p":-94},{"f":1.0512,"p":-125},
{"f":1.0542,"p":-77},{"f":1.0577,"p":-57},{"f":1.0611,"p":-41},{"f":1.0646,"p":-34},{"f":1.068,"p":-32.5},{"f":1.0714,"p":-34},{"f":1.0749,"p":-41},{"f":1.0783,"p":-57},{"f":1.0818,"p":-94},{"f":1.0852,"p":-125},
{"f":1.0882,"p":-77},{"f":1.0917,"p":-57},{"f":1.0951,"p":-41},{"f":1.0986,"p":-34},{"f":1.102,"p":-32.5},{"f":1.1054,"p":-34},{"f":1.1089,"p":-41},{"f":1.1123,"p":-57},{"f":1.1158,"p":-94},{"f":1.1192,"p":-125},
{"f":1.123,"p":-118},{"f":1.127,"p":-115.5},{"f":1.131,"p":-116},{"f":1.135,"p":-120},{"f":1.14,"p":-122},{"f":1.146,"p":-119},{"f":1.15,"p":-117},{"f":1.154,"p":-122},{"f":1.16,"p":-120},{"f":1.165,"p":-118},{"f":1.17,"p":-121},{"f":1.176,"p":-117},{"f":1.18,"p":-120},{"f":1.185,"p":-112},{"f":1.19,"p":-108},{"f":1.195,"p":-106},{"f":1.2,"p":-106.5},{"f":1.205,"p":-109},{"f":1.21,"p":-115},{"f":1.215,"p":-120},{"f":1.22,"p":-125},{"f":1.226,"p":-116},{"f":1.231,"p":-111},{"f":1.236,"p":-112},{"f":1.242,"p":-117},{"f":1.247,"p":-125},{"f":1.253,"p":-118},{"f":1.258,"p":-114},{"f":1.264,"p":-110},{"f":1.27,"p":-111},{"f":1.275,"p":-113},{"f":1.28,"p":-112},{"f":1.285,"p":-115},{"f":1.29,"p":-110.5},{"f":1.295,"p":-113},{"f":1.3,"p":-111},{"f":1.305,"p":-114},{"f":1.31,"p":-112},{"f":1.315,"p":-110},{"f":1.32,"p":-114},{"f":1.325,"p":-112},{"f":1.33,"p":-116},{"f":1.335,"p":-111},{"f":1.34,"p":-113},{"f":1.345,"p":-120},{"f":1.35,"p":-125},{"f":1.356,"p":-120},{"f":1.362,"p":-121},{"f":1.37,"p":-124},{"f":1.378,"p":-120},{"f":1.385,"p":-125},{"f":1.392,"p":-116},{"f":1.398,"p":-113},{"f":1.403,"p":-117},{"f":1.408,"p":-111},{"f":1.414,"p":-107},{"f":1.42,"p":-107.5},{"f":1.425,"p":-110},{"f":1.43,"p":-114},{"f":1.435,"p":-112},{"f":1.44,"p":-116},{"f":1.445,"p":-113},{"f":1.45,"p":-117},{"f":1.455,"p":-115},{"f":1.46,"p":-119},{"f":1.465,"p":-114},{"f":1.47,"p":-116},{"f":1.475,"p":-111},{"f":1.48,"p":-124},{"f":1.485,"p":-112},{"f":1.49,"p":-110},{"f":1.494,"p":-108},{"f":1.497,"p":-112},{"f":1.5,"p":-115}
]
},
"columns":2,
"spacing":{"row":95,"column":120},
"bounds":"flush",
"concat":[
{"width":472,"height":369,"title":{"text":"INPUT","dx":48,"frame":"group","offset":25},"view":{"stroke":"#808080"},"data":{"name":"time"},
"mark":{"type":"line","color":"#2020ff","strokeWidth":1.2,"clip":true},
"encoding":{
"x":{"field":"t","type":"quantitative","scale":{"domain":[-10,250],"nice":false,"zero":false},"axis":{"title":"Time (μs)","values":[0,50,100,150,200,250],"labelExpr":"replace(format(datum.value,'.4~g'),'−','-')","gridColor":"#d4d4d4","gridDash":[1,2]}},
"y":{"field":"i","type":"quantitative","scale":{"domain":[-0.5,1.1],"nice":false,"zero":false},"axis":{"title":"Voltage (V)","titleX":-62,"values":[-0.5,0,0.5,1],"labelExpr":"replace(format(datum.value,'.4~g'),'−','-')","gridColor":"#d4d4d4","gridDash":[1,2]}}}},
{"width":472,"height":369,"title":{"text":"OUTPUT","dx":44,"dy":7,"frame":"group","offset":25},"view":{"stroke":"#555"},"data":{"name":"time"},
"mark":{"type":"line","color":"#ff0000","strokeWidth":1.3,"clip":true},
"encoding":{
"x":{"field":"t","type":"quantitative","scale":{"domain":[-10,250],"nice":false,"zero":false},"axis":{"title":"Time (μs)","values":[0,50,100,150,200,250],"labelExpr":"replace(format(datum.value,'.4~g'),'−','-')","gridColor":"#d4d4d4","gridDash":[1,2]}},
"y":{"field":"o","type":"quantitative","scale":{"domain":[-1,2],"nice":false,"zero":false},"axis":{"title":"Voltage (V)","titleX":-62,"values":[-1,-0.5,0,0.5,1,1.5,2],"labelExpr":"replace(format(datum.value,'.4~g'),'−','-')","gridColor":"#d4d4d4","gridDash":[1,2]}}}},
{"width":472,"height":369,"view":{"stroke":"#808080"},"data":{"name":"fi"},
"mark":{"type":"line","color":"#5050ff","strokeWidth":1.1,"interpolate":"monotone","clip":true},
"encoding":{
"x":{"field":"f","type":"quantitative","scale":{"domain":[0,1.5],"nice":false,"zero":false},"axis":{"title":"Frequency (MHz)","titleY":44,"values":[0,0.5,1,1.5],"labelExpr":"replace(format(datum.value,'.4~g'),'−','-')","gridColor":"#e0e0e0","gridDash":[1,2]}},
"y":{"field":"p","type":"quantitative","scale":{"domain":[-120,-20],"nice":false,"zero":false},"axis":{"title":"PSD (dB)","titleX":-66,"values":[-120,-110,-100,-90,-80,-70,-60,-50,-40,-30,-20],"labelExpr":"replace(format(datum.value,'.4~g'),'−','-')","gridColor":"#e0e0e0","gridDash":[1,2]}}}},
{"width":472,"height":369,"view":{"stroke":"#333"},"data":{"name":"fo"},
"mark":{"type":"line","color":"#ff1a1a","strokeWidth":1.1,"interpolate":"step","clip":true},
"encoding":{
"x":{"field":"f","type":"quantitative","scale":{"domain":[0,1.5],"nice":false,"zero":false},"axis":{"title":"Frequency (MHz)","titleY":44,"values":[0,0.5,1,1.5],"labelExpr":"replace(format(datum.value,'.4~g'),'−','-')","gridColor":"#000","gridDash":[1,3],"gridOpacity":0.9}},
"y":{"field":"p","type":"quantitative","scale":{"domain":[-120,-20],"nice":false,"zero":false},"axis":{"title":"PSD (dB)","titleX":-62,"values":[-120,-110,-100,-90,-80,-70,-60,-50,-40,-30,-20],"labelExpr":"replace(format(datum.value,'.4~g'),'−','-')","gridColor":"#000","gridDash":[1,3],"gridOpacity":0.9}}}}
]
}
